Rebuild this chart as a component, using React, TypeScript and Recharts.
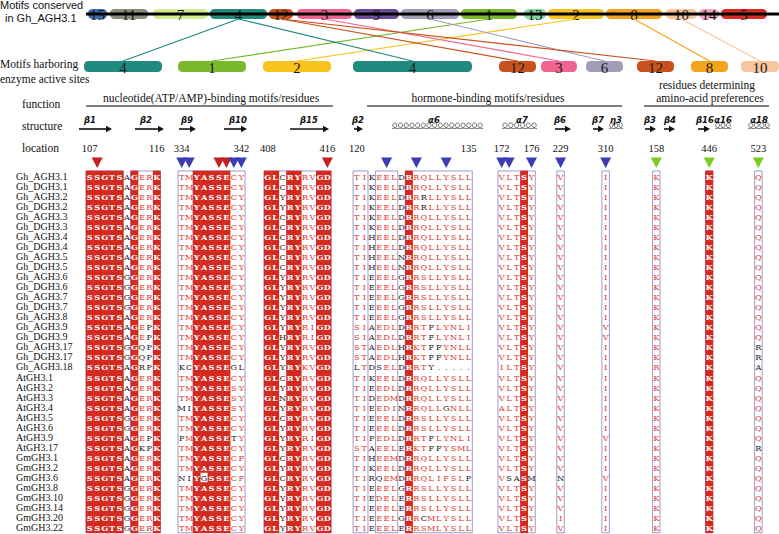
import React from "react";
import {
  ScatterChart,
  Scatter,
  XAxis,
  YAxis,
  ReferenceArea,
  ReferenceLine,
} from "recharts";

const W = 779;
const H = 534;

// ---- data ----

const ROW_NAMES = [
  "Gh_AGH3.1", "Gh_DGH3.1", "Gh_AGH3.2", "Gh_DGH3.2", "Gh_AGH3.3", "Gh_DGH3.3",
  "Gh_AGH3.4", "Gh_DGH3.4", "Gh_AGH3.5", "Gh_DGH3.5", "Gh_AGH3.6", "Gh_DGH3.6",
  "Gh_AGH3.7", "Gh_DGH3.7", "Gh_AGH3.8", "Gh_AGH3.9", "Gh_DGH3.9", "Gh_AGH3.17",
  "Gh_DGH3.17", "Gh_AGH3.18", "AtGH3.1", "AtGH3.2", "AtGH3.3", "AtGH3.4",
  "AtGH3.5", "AtGH3.6", "AtGH3.9", "AtGH3.17", "GmGH3.1", "GmGH3.2",
  "GmGH3.6", "GmGH3.8", "GmGH3.10", "GmGH3.14", "GmGH3.20", "GmGH3.22",
];

const SEQ_107_116 = [
  "SSGTSAGERK", "SSGTSAGERK", "SSGTSAGERK", "SSGTSAGERK", "SSGTSAGERK", "SSGTSAGERK",
  "SSGTSAGERK", "SSGTSAGERK", "SSGTSAGERK", "SSGTSAGERK", "SSGTSGGERK", "SSGTSGGERK",
  "SSGTSGGERK", "SSGTSGGERK", "SSGTSAGERK", "SSGTSAGEPK", "SSGTSAGEPK", "SSGTSGGQPK",
  "SSGTSGGQPK", "SSGTSAGRPK", "SSGTSAGERK", "SSGTSAGERK", "SSGTSAGERK", "SSGTSAGERK",
  "SSGTSGGERK", "SSGTSGGERK", "SSGTSAGEPK", "SSGTSAGKPK", "SSGTSAGERK", "SSGTSAGERK",
  "SSGTSAGERK", "SSGTSGGERK", "SSGTSGGERK", "SSGTSGGERK", "SSGTSGGERK", "SSGTSGGERK",
];

const SEQ_334_342 = [
  "TMYASSECY", "TMYASSECY", "TMYASSECY", "TMYASSECY", "TMYASSECY", "TMYASSECY",
  "TMYASSECY", "TMYASSECY", "TMYASSECY", "TMYASSECY", "TMYASSECY", "TMYASSECY",
  "TMYASSECY", "TMYASSECY", "TMYASSECY", "TMYASSECY", "TMYASSECY", "TMYASSECY",
  "TMYASSECY", "KCYASSEGL", "TMYASSECY", "TMYASSESY", "TMYASSESY", "MIYASSESY",
  "TMYASSECY", "TMYASSECY", "PMYASSETY", "TMYASSECY", "TMYASSECF", "TMYASSECY",
  "NIYGSSECF", "TMYASSECY", "TMYASSECY", "TMYASSECY", "TMYASSECY", "TMYASSECY",
];

const SEQ_408_416 = [
  "GLCRYRVGD", "GLCRYRVGD", "GLYRYRVGD", "GLYRYRVGD", "GLCRYRVGD", "GLCRYRVGD",
  "GLCRYRVGD", "GLCRYRVGD", "GLCRYRVGD", "GLCRYRVGD", "GLYRYRVGD", "GLYRYRVGD",
  "GLYRYRVGD", "GLYRYRVGD", "GLYRYRVGD", "GLYRYRIGD", "GLHRYRIGD", "GLYRYRVGD",
  "GLYRYRVGD", "GLYRYKVGD", "GLCRYRVGD", "GLYRYRVGD", "GLNRYRVGD", "GLYRYRVGD",
  "GLCRYRVGD", "GLYRYRVGD", "GLYRYRIGD", "GLYRYRVGD", "GLCRYRVGD", "GLYRYRVGD",
  "GLCRYRVGD", "GLYRYRVGD", "GLYRYRVGD", "GLYRYRVGD", "GLYRYRVGD", "GLYRYRVGD",
];

const SEQ_120_135 = [
  "TIKEELDRRQLLYSLL", "TIKEELDRRQLLYSLL", "TIKEELDRRRLLYSLL", "TIKEELDRRRLLYSLL",
  "TIKEELDRRQLLYSLL", "TIKEELDRRQLLYSLL", "TIHEELDRRQLLYSLL", "TIHEELDRRQLLYSLL",
  "TIHEELNRRQLLYSLL", "TIHEELNRRQLLYSLL", "TIEEELGRRSLLYSLL", "TIEEELGRRSLLYSLL",
  "TIEEELGRRSLLYSLL", "TIEEELGRRSLLYSLL", "TIEEELGRRSLLYSLL", "SIAEDLDRRTFLYNLI",
  "SIAEDLDRRTFLYNLI", "STAEDLHRKTFFYNLL", "STAEDLHRKTFFYNLL", "LTDSELDRRTY.....",
  "TIKEELDRRQLLYSLL", "TIEEDLDRRQLLYSLL", "TIDEDMDRRQLLYSLL", "TIEEDINRRQLLGNLL",
  "TIEEELDRRSLLYSLL", "TIEEELDRRSLLYSLL", "TIPEDLDRRTFLYNLI", "STAEELERKTFFYSML",
  "TIHEEMDRRQLLYSLL", "TIKEELDRRQLLYSLL", "TIRQEMDRRQLIFSLP", "TIEEELGRRSLLYSLL",
  "TIEDELERRSLLYSLL", "TIEEELERRSLLYSLL", "TIEEELGRRCMLYSLL", "TIEEELERRSMLYSLL",
];

const SEQ_172_176 = [
  "VLTSY", "VLTSY", "VLTSY", "VLTSY", "VLTSY", "VLTSY", "VLTSY", "VLTSY", "VLTSY",
  "VLTSY", "VLTSY", "VLTSY", "VLTSY", "VLTSY", "VLTSY", "VLTSY", "VLTSY", "VLTSY",
  "VLTSY", "ILTSY", "VLTSY", "VLTSY", "VLTSY", "ALTSY", "VLTSY", "VLTSY", "VLTSY",
  "VLTSY", "VLTSY", "VLTSY", "VSASM", "VLTSY", "VLTSY", "VLTSY", "VLTSY", "VLTSY",
];

// single-residue positions, one letter per row
const SEQ_229 = ("VVVVVVVVVV" + "VVVVVVVVVV" + "VVVVVVVVVV" + "NVVVIV").split("");
const SEQ_310 = ("IIIIIIIIII" + "IIIIIVVIII" + "IIIIIIVIII" + "VIIIII").split("");
const SEQ_158 = ("KKKKKKKKKK" + "KKKKKKKKKR" + "KKKKKKKKKK" + "KKKKKK").split("");
const SEQ_446 = ("KKKKKKKKKK" + "KKKKKKKKKK" + "KKKKKKKKKK" + "KKKKKK").split("");
const SEQ_523 = ("QQQQQQQQQQ" + "QQQQQQQRRA" + "QQQQQQQRQQ" + "QQQQQQ").split("");

const ALIGN_BLOCKS = [
  SEQ_107_116, SEQ_334_342, SEQ_408_416, SEQ_120_135, SEQ_172_176,
  SEQ_229, SEQ_310, SEQ_158, SEQ_446, SEQ_523,
];

// "*" = strictly conserved column (red box), letters = similar residues (red text)
const CONSERVATION = [
  ["*", "*", "*", "*", "*", "", "*", "E", "R", "*"],
  ["T", "M", "*", "*", "*", "*", "*", "CS", "YF"],
  ["*", "*", "", "*", "*", "RK", "VI", "*", "*"],
  ["TS", "IT", "", "ED", "ED", "LMI", "", "*", "RK", "QST", "LM", "LI", "YF", "SN", "LM", "LI"],
  ["VIA", "L", "T", "*", "Y"],
  ["VI"],
  ["IV"],
  ["KR"],
  ["*"],
  ["Q"],
];

const LOCATIONS = [
  ["107", "116"], ["334", "342"], ["408", "416"], ["120", "135"], ["172", "176"],
  ["229"], ["310"], ["158"], ["446"], ["523"],
];

const FUNCTIONS = [
  "nucleotide(ATP/AMP)-binding motifs/residues",
  "hormone-binding motifs/residues",
];
const PREFERENCE_LINES = ["residues determining", "amino-acid preferences"];

// [block, column, kind]
const TRIANGLES: [number, number, string][] = [
  [0, 1, "nuc"], [1, 0, "hor"], [1, 1, "hor"], [1, 5, "nuc"], [1, 6, "nuc"],
  [1, 7, "hor"], [1, 8, "hor"], [2, 8, "nuc"], [3, 4, "hor"], [3, 8, "hor"],
  [3, 12, "hor"], [4, 0, "hor"], [4, 1, "hor"], [4, 4, "hor"], [5, 0, "hor"],
  [6, 0, "hor"], [7, 0, "pref"], [8, 0, "pref"], [9, 0, "pref"],
];

// secondary structure: label, kind (E strand / H helix), start, end, label position
const SECONDARY: [string, string, number, number, number][] = [
  ["β1", "E", 79, 112, 90], ["β2", "E", 135, 164, 146], ["β9", "E", 179, 196, 187],
  ["β10", "E", 224, 247, 238], ["β15", "E", 290, 329, 309], ["β2", "E", 354, 363, 358],
  ["α6", "H", 392, 483, 434], ["α7", "H", 502, 537, 522], ["β6", "E", 555, 571, 560],
  ["β7", "E", 593, 604, 598], ["η3", "H", 609, 623, 616], ["β3", "E", 645, 656, 650],
  ["β4", "E", 664, 675, 670], ["β16", "E", 698, 710, 705], ["α16", "H", 715, 731, 723],
  ["α18", "H", 748, 770, 759],
];

// motif id, start, end (along Gh_AGH3.1)
const CONSERVED_MOTIFS: [number, number, number][] = [
  [15, 88, 107], [11, 110, 148], [7, 153, 208], [4, 210, 267], [12, 269, 293],
  [3, 297, 352], [9, 354, 399], [6, 401, 459], [1, 461, 517], [13, 524, 546],
  [2, 548, 604], [8, 606, 662], [10, 666, 697], [14, 699, 719], [5, 721, 767],
];

const ACTIVE_MOTIFS: [number, number, number][] = [
  [4, 84, 162], [1, 178, 246], [2, 263, 331], [4, 353, 472], [12, 499, 536],
  [3, 541, 577], [6, 586, 623], [12, 637, 674], [8, 691, 728], [10, 741, 779],
];

// ---- styles / layout ----

const MOTIF_COLORS: Record<number, string> = {
  1: "#78b82a", 2: "#f6c41c", 3: "#f0648f", 4: "#1f8a7d", 5: "#d82c22",
  6: "#a29db6", 7: "#d3ec8e", 8: "#f5a21d", 9: "#6c4b9b", 10: "#f9c59c",
  11: "#8c8b78", 12: "#c8521f", 13: "#86d8a9", 14: "#f2a3c2", 15: "#3d6cb5",
};
const TRI_COLORS: Record<string, string> = { nuc: "#c51f1f", hor: "#3b3db2", pref: "#7dcb1f" };
const RED_BG = "#d3291f";
const RED_TXT = "#e0382f";
const FRAME = "#8f8fc9";
const SERIF = "'Liberation Serif', 'Times New Roman', serif";
const SANS = "'Liberation Sans', Arial, sans-serif";
const RES_FONT = "'DejaVu Serif', serif";

const ALIGN_X0 = 86;
const COL_PX = 7.45;
const ROW_Y0 = 176;
const ROW_PX = 10.05;
const COL_DOMAIN = [-ALIGN_X0 / COL_PX, (W - ALIGN_X0) / COL_PX];
const ROW_DOMAIN = [-ROW_Y0 / ROW_PX, (H - ROW_Y0) / ROW_PX];
const BLOCK_OFFSET = [0, 12.35, 23.9, 35.85, 55.3, 63.2, 69.25, 76.05, 83.15, 89.75];
const FRAMES: [number, number, number][] = [
  [0, 0, 5], [0, 6, 10], [1, 0, 9], [2, 0, 9], [3, 0, 2], [3, 3, 6], [3, 7, 16],
  [4, 0, 5], [5, 0, 1], [6, 0, 1], [7, 0, 1], [8, 0, 1], [9, 0, 1],
];

function buildResidues() {
  const pts: any[] = [];
  ALIGN_BLOCKS.forEach((seqs, bi) => {
    CONSERVATION[bi].forEach((rule, c) => {
      const column = seqs.map((s) => s[c]);
      const counts: Record<string, number> = {};
      column.forEach((ch) => (counts[ch] = (counts[ch] || 0) + 1));
      const consensus = Object.keys(counts).sort((a, b) => counts[b] - counts[a])[0];
      column.forEach((ch, r) => {
        let kind = "n";
        if (rule === "*") kind = ch === consensus ? "c" : "n";
        else if (rule.includes(ch)) kind = "s";
        pts.push({ x: BLOCK_OFFSET[bi] + c + 0.5, y: r, ch, kind });
      });
    });
  });
  return pts;
}

const residues = buildResidues();
const rowLabels = ROW_NAMES.map((text, r) => ({ x: 16, y: r, text }));
const locationLabels = LOCATIONS.flatMap((labels, bi) =>
  labels.map((text, i) => ({
    x: BLOCK_OFFSET[bi] + (i === 0 ? 0.5 : ALIGN_BLOCKS[bi][0].length - 0.5),
    y: 148,
    text,
  }))
);
const trianglePts = TRIANGLES.map(([b, c, kind]) => ({ x: BLOCK_OFFSET[b] + c + 0.5, y: 162.5, kind }));
const structureLabels = SECONDARY.map(([text, , , , lx]) => ({ x: lx, y: 120, text }));

const sideTitles = [
  { x: 0, y: 64, text: "Motifs harboring" },
  { x: 0, y: 79, text: "enzyme active sites" },
  { x: 22, y: 104, text: "function" },
  { x: 22, y: 126, text: "structure" },
  { x: 22, y: 148, text: "location" },
];
const headerTitles = [
  { x: 211, y: 98, text: FUNCTIONS[0] },
  { x: 488, y: 98, text: FUNCTIONS[1] },
  { x: 707, y: 85, text: PREFERENCE_LINES[0] },
  { x: 710, y: 98, text: PREFERENCE_LINES[1] },
];
const topTitles = [
  { x: 0, y: 5, text: "Motifs conserved" },
  { x: 5, y: 18, text: "in Gh_AGH3.1" },
];

const makeText = (font: string, size: number, anchor: string, extra: any = {}) => (p: any) =>
  p.cx == null ? null : (
    <text
      x={p.cx}
      y={p.cy}
      textAnchor={anchor}
      dominantBaseline="central"
      fontFamily={font}
      fontSize={size}
      fill="#111"
      {...extra}
    >
      {p.payload.text}
    </text>
  );

const ResidueShape = (p: any) => {
  const { cx, cy, payload: d } = p;
  if (cx == null) return null;
  const txt = (fill: string, weight: string) => (
    <text x={cx} y={cy + 0.5} textAnchor="middle" dominantBaseline="central" fontFamily={RES_FONT}
      fontSize={8.2} fontWeight={weight} fill={fill}>
      {d.ch}
    </text>
  );
  if (d.kind === "c") {
    return (
      <g>
        <rect x={cx - COL_PX / 2 - 0.2} y={cy - ROW_PX / 2 - 0.3} width={COL_PX + 0.4} height={ROW_PX + 0.6} fill={RED_BG} />
        {txt("#ffffff", "bold")}
      </g>
    );
  }
  return txt(d.kind === "s" ? RED_TXT : "#222", "normal");
};

const TriangleShape = (p: any) =>
  p.cx == null ? null : (
    <path
      d={`M${p.cx - 5.5},${p.cy - 5} L${p.cx + 5.5},${p.cy - 5} L${p.cx},${p.cy + 5.5} Z`}
      fill={TRI_COLORS[p.payload.kind]}
    />
  );

const Pill = (p: any) => (
  <g>
    <rect x={p.x} y={p.y} width={p.width} height={p.height} rx={4.5} ry={4.5} fill={MOTIF_COLORS[p.motif]} />
    <text x={p.x + p.width / 2} y={p.y + p.height / 2 + 1} textAnchor="middle" dominantBaseline="central"
      fontFamily={SERIF} fontSize={15} fill="#1a1a1a">
      {p.motif}
    </text>
  </g>
);

const StrandArrow = (p: any) => {
  const my = p.y + p.height / 2;
  const hx = p.x + p.width;
  return (
    <g>
      <line x1={p.x} y1={my} x2={hx - 4} y2={my} stroke="#111" strokeWidth={1.6} />
      <path d={`M${hx - 6},${my - 3.2} L${hx},${my} L${hx - 6},${my + 3.2} Z`} fill="#111" />
    </g>
  );
};

const HelixCoil = (p: any) => {
  const n = Math.max(3, Math.round(p.width / 5.6));
  const step = p.width / n;
  const yb = p.y + p.height;
  const top = p.y;
  let d = `M${p.x},${yb}`;
  for (let i = 0; i < n; i++) {
    const a = p.x + i * step;
    d += ` C${a + step * 1.05},${yb} ${a + step * 1.05},${top} ${a + step * 0.5},${top}`;
    d += ` C${a - step * 0.05},${top} ${a - step * 0.05},${yb} ${a + step},${yb}`;
  }
  return <path d={d} fill="none" stroke="#333" strokeWidth={0.7} />;
};

const centerOf = (list: [number, number, number][], id: number) => {
  const m = list.find((t) => t[0] === id)!;
  return (m[1] + m[2]) / 2;
};

export default function App() {
  return (
    <div style={{ position: "absolute", left: 0, top: 0, width: W, height: H, background: "#fff" }}>
      <ScatterChart width={W} height={H} margin={{ top: 0, right: 0, bottom: 0, left: 0 }}>
        <XAxis xAxisId="px" type="number" dataKey="x" domain={[0, W]} allowDataOverflow hide />
        <YAxis yAxisId="py" type="number" dataKey="y" domain={[0, H]} allowDataOverflow reversed hide />
        <XAxis xAxisId="col" type="number" dataKey="x" domain={COL_DOMAIN} allowDataOverflow hide />
        <YAxis yAxisId="row" type="number" dataKey="y" domain={ROW_DOMAIN} allowDataOverflow reversed hide />

        {/* conserved-motif backbone */}
        <ReferenceLine xAxisId="px" yAxisId="py" ifOverflow="visible"
          segment={[{ x: 86, y: 14 }, { x: W, y: 14 }]} stroke="#000" strokeWidth={3} />
        {ACTIVE_MOTIFS.map(([id, s, e], i) => (
          <ReferenceLine key={"ln" + i} xAxisId="px" yAxisId="py" ifOverflow="visible"
            segment={[{ x: centerOf(CONSERVED_MOTIFS, id), y: 19 }, { x: (s + e) / 2, y: 61 }]}
            stroke={MOTIF_COLORS[id]} strokeWidth={1.2} />
        ))}
        {CONSERVED_MOTIFS.map(([id, s, e], i) => (
          <ReferenceArea key={"cm" + i} xAxisId="px" yAxisId="py" x1={s} x2={e} y1={9} y2={19}
            ifOverflow="visible" shape={(p: any) => <Pill {...p} motif={id} />} />
        ))}
        {ACTIVE_MOTIFS.map(([id, s, e], i) => (
          <ReferenceArea key={"am" + i} xAxisId="px" yAxisId="py" x1={s} x2={e} y1={61} y2={72}
            ifOverflow="visible" shape={(p: any) => <Pill {...p} motif={id} />} />
        ))}

        {/* function header rules */}
        <ReferenceLine xAxisId="px" yAxisId="py" segment={[{ x: 86, y: 106 }, { x: 333, y: 106 }]} stroke="#000" strokeWidth={1.2} />
        <ReferenceLine xAxisId="px" yAxisId="py" segment={[{ x: 367, y: 106 }, { x: 622, y: 106 }]} stroke="#000" strokeWidth={1.2} />
        <ReferenceLine xAxisId="px" yAxisId="py" segment={[{ x: 644, y: 106 }, { x: 769, y: 106 }]} stroke="#000" strokeWidth={1.2} />

        {/* secondary structure */}
        {SECONDARY.map(([label, kind, s, e], i) =>
          kind === "E" ? (
            <ReferenceArea key={"ss" + i} xAxisId="px" yAxisId="py" x1={s} x2={e} y1={126} y2={132}
              ifOverflow="visible" shape={(p: any) => <StrandArrow {...p} />} />
          ) : (
            <ReferenceArea key={"ss" + i} xAxisId="px" yAxisId="py" x1={s} x2={e} y1={123} y2={128.5}
              ifOverflow="visible" shape={(p: any) => <HelixCoil {...p} />} />
          )
        )}

        {/* alignment frames */}
        {FRAMES.map(([b, a, z], i) => (
          <ReferenceArea key={"fr" + i} xAxisId="col" yAxisId="row" x1={BLOCK_OFFSET[b] + a} x2={BLOCK_OFFSET[b] + z}
            y1={-0.5} y2={ROW_NAMES.length - 0.5} fill="none" fillOpacity={0} stroke={FRAME} strokeWidth={0.9} ifOverflow="visible" />
        ))}

        <Scatter xAxisId="col" yAxisId="row" data={residues} shape={ResidueShape} isAnimationActive={false} />
        <Scatter xAxisId="px" yAxisId="row" data={rowLabels} shape={makeText(SERIF, 10, "start")} isAnimationActive={false} />
        <Scatter xAxisId="col" yAxisId="py" data={trianglePts} shape={TriangleShape} isAnimationActive={false} />
        <Scatter xAxisId="col" yAxisId="py" data={locationLabels} shape={makeText(SERIF, 10.5, "middle")} isAnimationActive={false} />
        <Scatter xAxisId="px" yAxisId="py" data={structureLabels}
          shape={makeText("'DejaVu Sans', sans-serif", 8.5, "middle", { fontWeight: "bold", fontStyle: "italic" })}
          isAnimationActive={false} />
        <Scatter xAxisId="px" yAxisId="py" data={sideTitles} shape={makeText(SERIF, 11.5, "start")} isAnimationActive={false} />
        <Scatter xAxisId="px" yAxisId="py" data={headerTitles} shape={makeText(SERIF, 11.5, "middle")} isAnimationActive={false} />
        <Scatter xAxisId="px" yAxisId="py" data={topTitles} shape={makeText(SANS, 11, "start")} isAnimationActive={false} />
      </ScatterChart>
    </div>
  );
}
